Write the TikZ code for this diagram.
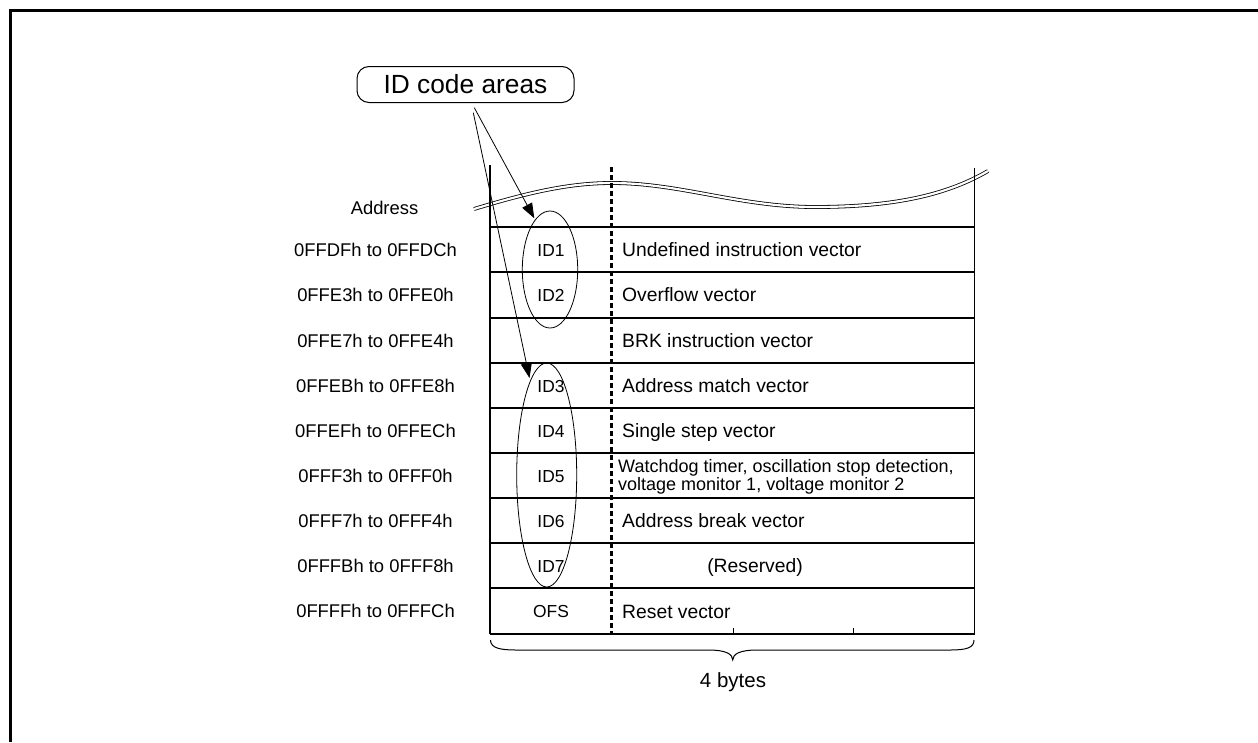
\documentclass[tikz,border=0pt]{standalone}
\usepackage{fontspec}
\setmainfont{Liberation Sans}
\usetikzlibrary{arrows.meta,shapes.geometric}
\begin{document}
\begin{tikzpicture}[x=1pt,y=-1pt,
  txt/.style={inner sep=0pt, text depth=0pt},
  addr/.style={txt, text height=13.2pt, font=\fontsize{18.4}{20}\selectfont},
  idl/.style={txt, text height=12.5pt, font=\fontsize{17.4}{19}\selectfont},
  vec/.style={txt, anchor=west, text height=13.8pt, font=\fontsize{19.3}{21}\selectfont},
  small/.style={txt, anchor=west, text height=12.9pt, font=\fontsize{18}{20}\selectfont},
  tbl/.style={line width=1.8pt},
  ell/.style={draw, ellipse, line width=0.8pt, inner sep=0pt},
  arr/.style={line width=0.8pt, -{Triangle[length=15pt,width=11pt]}},
  frame/.style={line width=3pt},
  wave/.style={double, double distance=2.2pt, line width=0.8pt},
  dashv/.style={line width=2.6pt, dash pattern=on 5.5pt off 2.5pt},
  callout/.style={draw, rounded corners=12pt, line width=1pt, minimum width=217pt, minimum height=36pt, inner sep=0pt, text height=18.8pt, text depth=0pt, font=\fontsize{26.3}{28}\selectfont}
]
\useasboundingbox (0,0) rectangle (1258,742);
% outer frame
\draw[frame] (10.5,742) -- (10.5,10.5) -- (1258,10.5);

% wavy double line
\draw[wave] (474,209) .. controls (530,192) and (570,183) .. (612,183)
  .. controls (680,183) and (740,207) .. (815,207)
  .. controls (900,207) and (950,193) .. (988,171);

% table verticals
\draw[tbl] (490,165) -- (490,634.3);
\draw[tbl] (974.5,168) -- (974.5,634.3);
\draw[dashv] (611.7,166.7) -- (611.7,634.3);
% table rows
\foreach \y in {227.3,272.3,317.7,363.3,408.3,453.3,498.3,543.3,588.3,634.3}
  \draw[tbl] (490,\y) -- (974.5,\y);
% ticks
\draw[line width=1pt] (733,634.3) -- (733,627.5);
\draw[line width=1pt] (853,634.3) -- (853,627.5);

% address labels
\node[addr] (haddr) at (384.5,208) {Address};
\node[addr] (a1) at (375.5,249.8) {0FFDFh to 0FFDCh};
\node[addr] (a2) at (375.5,295) {0FFE3h to 0FFE0h};
\node[addr] (a3) at (375.5,340.5) {0FFE7h to 0FFE4h};
\node[addr] (a4) at (375.5,385.8) {0FFEBh to 0FFE8h};
\node[addr] (a5) at (375.5,430.8) {0FFEFh to 0FFECh};
\node[addr] (a6) at (375.5,475.8) {0FFF3h to 0FFF0h};
\node[addr] (a7) at (375.5,520.8) {0FFF7h to 0FFF4h};
\node[addr] (a8) at (375.5,565.8) {0FFFBh to 0FFF8h};
\node[addr] (a9) at (375.5,611.3) {0FFFFh to 0FFFCh};

% ID labels
\node[idl] (id1) at (551,249.8) {ID1};
\node[idl] (id2) at (551,295) {ID2};
\node[idl] (id3) at (551,385.8) {ID3};
\node[idl] (id4) at (551,430.8) {ID4};
\node[idl] (id5) at (551,475.8) {ID5};
\node[idl] (id6) at (551,520.8) {ID6};
\node[idl] (id7) at (551,565.8) {ID7};
\node[idl] (ofs) at (551,611.3) {OFS};

% vector texts
\node[vec] (v1) at (622,249.8) {Undefined instruction vector};
\node[vec] (v2) at (622,295) {Overflow vector};
\node[vec] (v3) at (622,340.5) {BRK instruction vector};
\node[vec] (v4) at (622,385.8) {Address match vector};
\node[vec] (v5) at (622,430.8) {Single step vector};
\node[small] (v6a) at (618,466.5) {Watchdog timer, oscillation stop detection,};
\node[small] (v6b) at (618,484.5) {voltage monitor 1, voltage monitor 2};
\node[vec] (v7) at (622,520.8) {Address break vector};
\node[vec,anchor=center] (v8) at (755,565.8) {(Reserved)};
\node[vec] (v9) at (622,611.3) {Reset vector};

% ellipses
\node[ell, minimum width=55.4pt, minimum height=117pt] (e1) at (550,269.5) {};
\node[ell, minimum width=60pt, minimum height=224pt] (e2) at (546.7,475) {};

% callout
\node[callout] (call) at (465.5,84.5) {ID code areas};
\coordinate (s1) at (474.3,107.7);
\coordinate (s2) at (473.3,112.7);
\coordinate (t1) at (534.3,218.3);
\coordinate (t2) at (529.5,378);
\draw[arr] (s1) -- (t1);
\draw[arr] (s2) -- (t2);

% brace
\draw[line width=1pt] (490.5,640) .. controls (490.5,648) and (500,650) .. (516,650)
  -- (708,650) .. controls (726,650) and (732.7,654) .. (732.7,660)
  .. controls (732.7,654) and (740,650) .. (757,650)
  -- (950,650) .. controls (966,650) and (974,648) .. (974,640);
\node[txt, text height=14.7pt, font=\fontsize{20.5}{22}\selectfont] (bytes) at (733,680) {4 bytes};
\end{tikzpicture}
\end{document}
